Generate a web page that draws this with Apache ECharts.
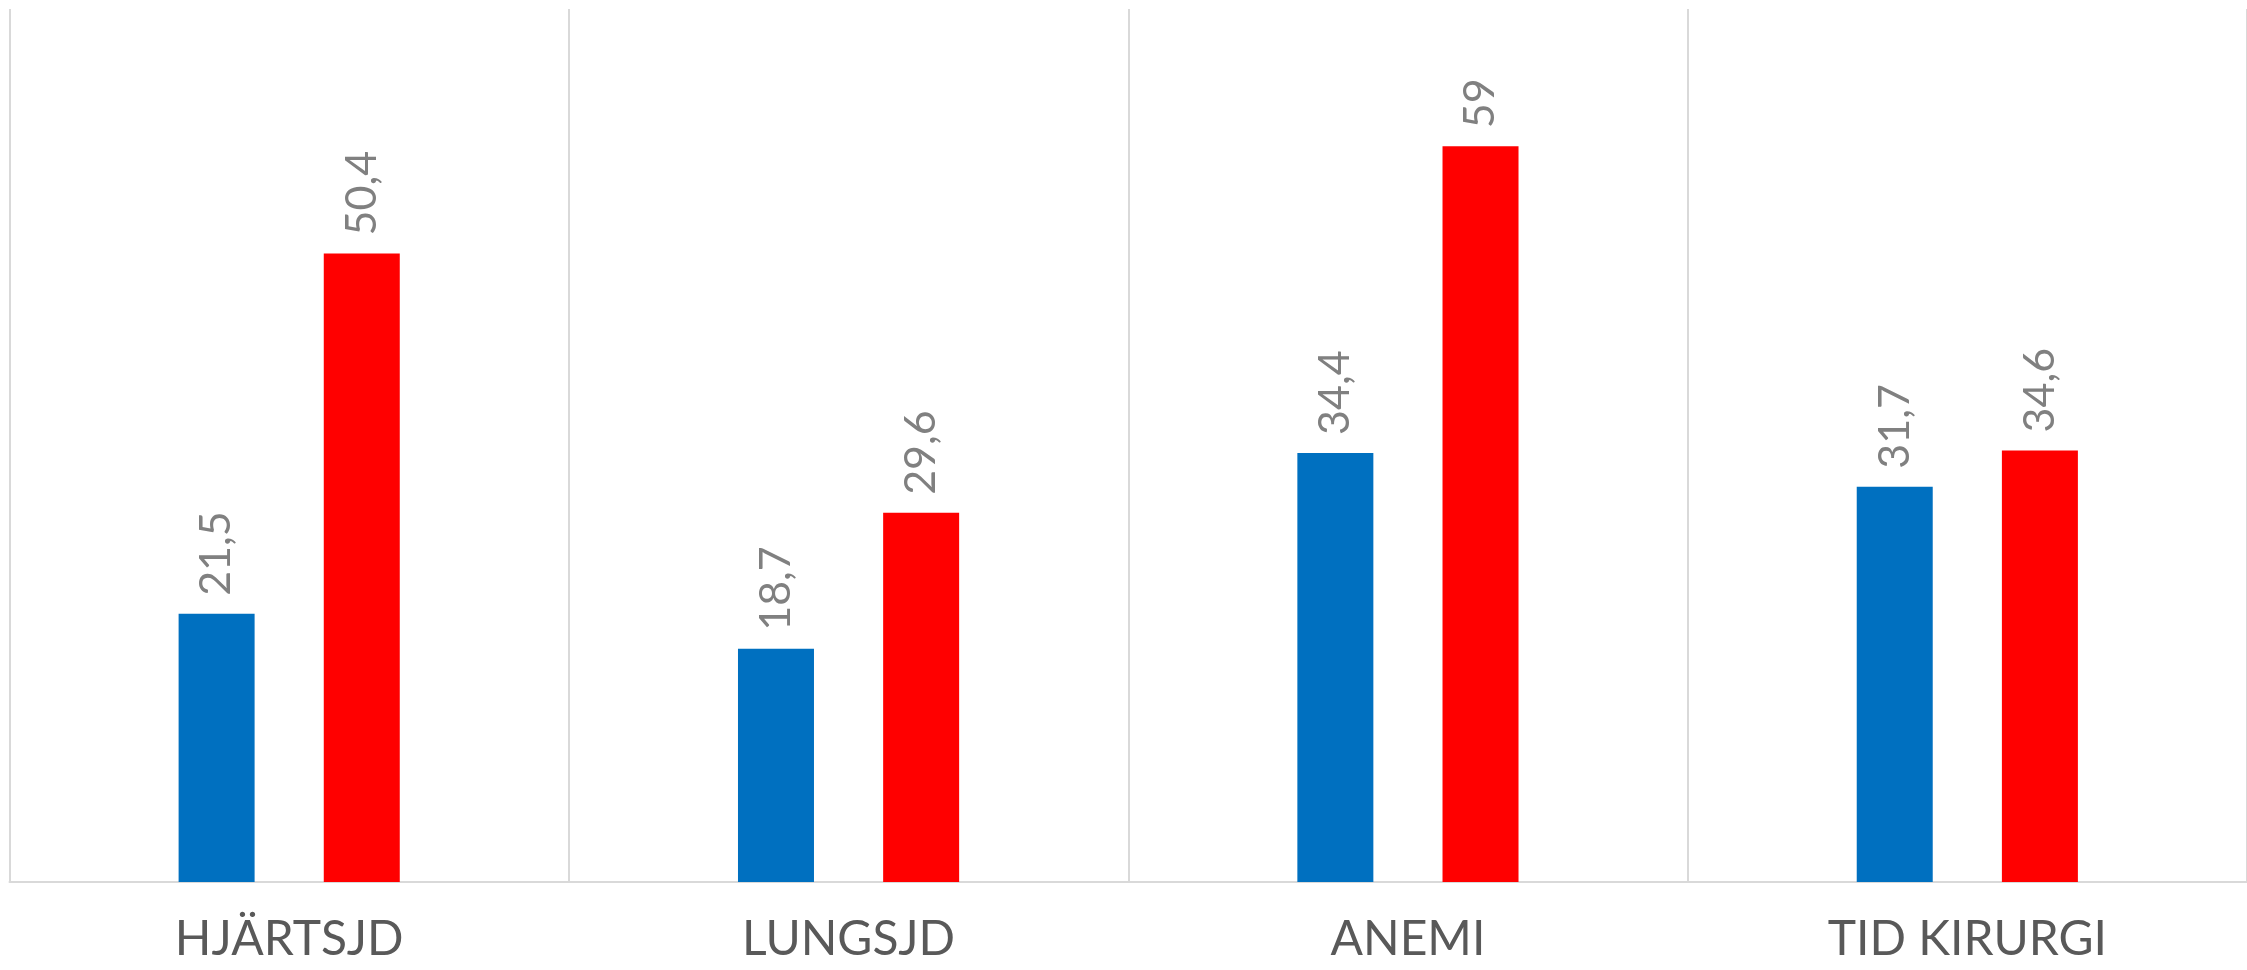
<!DOCTYPE html>
<html>
<head>
<meta charset="utf-8">
<script src="https://cdn.jsdelivr.net/npm/echarts@6/dist/echarts.min.js"></script>
<style>
  html, body { margin: 0; padding: 0; background: #ffffff; }
  #chart { width: 2247px; height: 970px; }
</style>
</head>
<body>
<div id="chart"></div>
<script>
// Categories along the x axis
const categories = ['HJÄRTSJD', 'LUNGSJD', 'ANEMI', 'TID KIRURGI'];
// Blue series values
const blueValues = [21.5, 18.7, 34.4, 31.7];
// Red series values
const redValues = [50.4, 29.6, 59, 34.6];

const FONT = 'Lato, "Open Sans", "Noto Sans", sans-serif';

// Values are written with a decimal comma
const fmt = p => String(p.value).replace('.', ',');

const valueLabel = {
  show: true,
  position: 'top',
  rotate: 90,
  align: 'left',
  verticalAlign: 'middle',
  distance: 18,
  color: '#808080',
  fontFamily: FONT,
  fontSize: 43,
  formatter: fmt
};

const chart = echarts.init(document.getElementById('chart'), null, { renderer: 'canvas' });
chart.setOption({
  animation: false,
  backgroundColor: '#ffffff',
  grid: { left: 9.5, top: 9, bottom: 88, width: 2246, containLabel: false },
  xAxis: {
    type: 'category',
    data: categories,
    boundaryGap: true,
    axisLine: { show: true, lineStyle: { color: '#d9d9d9', width: 2 } },
    axisTick: { show: false },
    splitLine: { show: true, lineStyle: { color: '#d9d9d9', width: 2 } },
    axisLabel: {
      color: '#595959',
      fontFamily: FONT,
      fontSize: 48,
      margin: 34
    }
  },
  yAxis: {
    type: 'value',
    min: 0,
    max: 70,
    show: false,
    splitLine: { show: false }
  },
  series: [
    {
      type: 'bar',
      data: blueValues,
      barWidth: 76,
      barGap: '91%',
      itemStyle: { color: '#0070C0' },
      label: valueLabel
    },
    {
      type: 'bar',
      data: redValues,
      barWidth: 76,
      itemStyle: { color: '#FF0000' },
      label: valueLabel
    }
  ]
});
</script>
</body>
</html>
